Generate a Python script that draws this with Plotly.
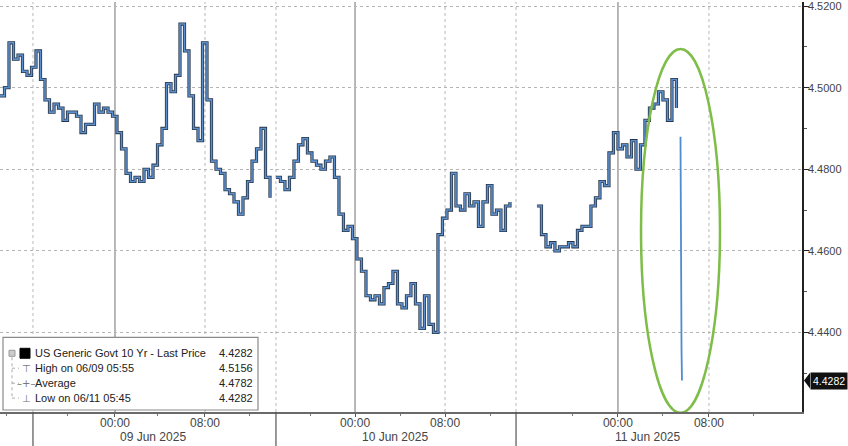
import plotly.graph_objects as go

# ---------------- data ----------------
# session time in "display hours" (Bloomberg compresses closed hours)
seg_starts = [0.0, 24.53, 47.73]
bar_step = 0.4

seg1_vals = [4.498, 4.500, 4.511, 4.507, 4.508, 4.504, 4.503, 4.505, 4.509, 4.502,
             4.497, 4.494, 4.496, 4.495, 4.492, 4.494, 4.494, 4.493, 4.489, 4.491,
             4.491, 4.496, 4.494, 4.495, 4.494, 4.493, 4.489, 4.485, 4.479, 4.477,
             4.478, 4.477, 4.480, 4.478, 4.481, 4.486, 4.490, 4.501, 4.499, 4.503,
             4.5156, 4.509, 4.498, 4.490, 4.487, 4.511, 4.497, 4.482, 4.480, 4.479,
             4.475, 4.474, 4.472, 4.469, 4.473, 4.477, 4.482, 4.485, 4.490, 4.478,
             4.473]
seg2_vals = [4.478, 4.477, 4.475, 4.478, 4.482, 4.486, 4.4875, 4.484, 4.482, 4.481,
             4.480, 4.482, 4.483, 4.478, 4.469, 4.465, 4.466, 4.463, 4.458, 4.455,
             4.449, 4.448, 4.449, 4.447, 4.451, 4.452, 4.455, 4.447, 4.446, 4.449,
             4.452, 4.447, 4.441, 4.449, 4.442, 4.440, 4.464, 4.468, 4.470, 4.479,
             4.471, 4.470, 4.474, 4.471, 4.472, 4.466, 4.472, 4.476, 4.469, 4.470,
             4.465, 4.471, 4.472]
seg3_vals = [4.471, 4.464, 4.461, 4.462, 4.460, 4.461, 4.461, 4.462, 4.461, 4.465,
             4.466, 4.466, 4.471, 4.473, 4.477, 4.476, 4.484, 4.489, 4.485, 4.486,
             4.483, 4.487, 4.480, 4.486, 4.492, 4.495, 4.496, 4.499, 4.497, 4.492,
             4.502, 4.495]
spike_time = [60.49, 60.53, 60.58, 60.62]
spike_vals = [4.488, 4.446, 4.436, 4.4282]

day_sep_pos = [2.93, 24.53, 45.87]
midnight_pos = [10.22, 31.56, 54.93]
morning_pos = [18.22, 39.56, 63.02]
minor_tick_pos = [0.62, 6.04, 14.04, 22.22, 27.56, 35.56, 43.56, 50.93, 58.93, 67.02]
day_label_pos = [13.6, 35.1, 57.6]
day_labels = ["09 Jun 2025", "10 Jun 2025", "11 Jun 2025"]

y_ticks = [4.44, 4.46, 4.48, 4.50, 4.52]
last_price = 4.4282

legend_labels = ["US Generic Govt 10 Yr - Last Price", "High on 06/09 05:55",
                 "Average", "Low on 06/11 05:45"]
legend_values = ["4.4282", "4.5156", "4.4782", "4.4282"]

# ---------------- figure ----------------
xs, ys = [], []
for start, vals in zip(seg_starts, [seg1_vals, seg2_vals, seg3_vals]):
    xs += [start + i * bar_step for i in range(len(vals))]
    ys += vals
    xs.append(None)
    ys.append(None)

X_MAX = 71.29
Y_MIN, Y_MAX = 4.4205, 4.521
FONT = "Liberation Sans"

fig = go.Figure()
fig.add_trace(go.Scatter(x=xs, y=ys, mode="lines", line=dict(color="#283444", width=3.2, shape="hv"),
                         connectgaps=False, hoverinfo="skip", showlegend=False))
fig.add_trace(go.Scatter(x=xs, y=ys, mode="lines", line=dict(color="#5b8fce", width=1.6, shape="hv"),
                         connectgaps=False, showlegend=False))
fig.add_trace(go.Scatter(x=spike_time, y=spike_vals, mode="lines",
                         line=dict(color="#4f8bd0", width=1.8), showlegend=False))

shapes = []
for p in day_sep_pos + morning_pos:
    shapes.append(dict(type="line", xref="x", yref="paper", x0=p, x1=p, y0=0, y1=1,
                       line=dict(color="#b8b8b8", width=1, dash="dot"), layer="below"))
for p in midnight_pos:
    shapes.append(dict(type="line", xref="x", yref="paper", x0=p, x1=p, y0=0, y1=1,
                       line=dict(color="#a6a6a6", width=1.6), layer="below"))
for p in day_sep_pos:
    shapes.append(dict(type="line", xref="x", yref="paper", x0=p, x1=p, y0=0, y1=-0.085,
                       line=dict(color="#555", width=1.2)))

# green ellipse highlight
shapes.append(dict(type="circle", xref="x", yref="y", x0=56.98, x1=64.0, y0=4.4203, y1=4.5095,
                   line=dict(color="#7dbd48", width=2.5)))

# legend box (pixel -> paper)
def px(x):
    return x / 802.0

def py(y):
    return (412.0 - y) / 412.0

shapes.append(dict(type="rect", xref="paper", yref="paper", x0=px(3), x1=px(258), y0=py(410), y1=py(337),
                   line=dict(color="#8a8a8a", width=1.2), fillcolor="white"))
row_y = [353, 368, 383, 398]
shapes.append(dict(type="line", xref="paper", yref="paper", x0=px(12), x1=px(12), y0=py(357), y1=py(398),
                   line=dict(color="#aaa", width=1, dash="dot")))
for ry in row_y[1:]:
    shapes.append(dict(type="line", xref="paper", yref="paper", x0=px(12), x1=px(19), y0=py(ry), y1=py(ry),
                       line=dict(color="#aaa", width=1, dash="dot")))
shapes.append(dict(type="rect", xref="paper", yref="paper", x0=px(9), x1=px(15), y0=py(356), y1=py(350),
                   line=dict(color="#999", width=1), fillcolor="#ccc"))
shapes.append(dict(type="rect", xref="paper", yref="paper", x0=px(20), x1=px(30), y0=py(358), y1=py(348),
                   line=dict(color="#000", width=1), fillcolor="#000"))
# last price tag pointer
ty = (last_price - Y_MIN) / (Y_MAX - Y_MIN)
shapes.append(dict(type="path", xref="paper", yref="paper",
                   path=f"M {px(804)},{ty} L {px(810)},{ty + 8/412} L {px(810)},{ty - 8/412} Z",
                   fillcolor="#111", line=dict(color="#111", width=0)))

annotations = []
for p, t in zip(day_label_pos, day_labels):
    annotations.append(dict(x=p, xref="x", y=py(437), yref="paper", text=t, showarrow=False,
                            font=dict(family=FONT, size=12, color="#444"), yanchor="middle"))
icons = ["", "⊤", "–+–", "⊥"]
for i, (lab, val) in enumerate(zip(legend_labels, legend_values)):
    annotations.append(dict(x=px(33), xref="paper", y=py(row_y[i]), yref="paper", text=lab,
                            showarrow=False, xanchor="left", yanchor="middle",
                            font=dict(family=FONT, size=11, color="#222")))
    annotations.append(dict(x=px(255), xref="paper", y=py(row_y[i]), yref="paper", text=val,
                            showarrow=False, xanchor="right", yanchor="middle",
                            font=dict(family=FONT, size=11, color="#222")))
    if icons[i]:
        annotations.append(dict(x=px(26), xref="paper", y=py(row_y[i]), yref="paper", text=icons[i],
                                showarrow=False, xanchor="center", yanchor="middle",
                                font=dict(family="DejaVu Sans", size=10, color="#777")))
annotations.append(dict(x=px(810), xref="paper", y=last_price, yref="y", text=f"{last_price:.4f}",
                        showarrow=False, xanchor="left", yanchor="middle", bgcolor="#111",
                        borderpad=2, font=dict(family=FONT, size=10.5, color="white")))

fig.update_layout(
    width=848, height=446,
    margin=dict(l=0, r=46, t=0, b=34),
    plot_bgcolor="white", paper_bgcolor="white",
    shapes=shapes, annotations=annotations,
    xaxis=dict(range=[0, X_MAX], showgrid=False, zeroline=False,
               tickmode="array", tickvals=midnight_pos + morning_pos,
               ticktext=["00:00"] * 3 + ["08:00"] * 3,
               ticks="outside", ticklen=3, tickcolor="#555", ticklabelstandoff=-4,
               minor=dict(tickmode="array", tickvals=minor_tick_pos, ticks="outside", ticklen=2, tickcolor="#777"),
               showline=True, linecolor="#6a6a6a", linewidth=2,
               tickfont=dict(family=FONT, size=12, color="#444")),
    yaxis=dict(range=[Y_MIN, Y_MAX], side="right", tickmode="array", tickvals=y_ticks,
               ticktext=[f"{v:.4f}" for v in y_ticks], ticklabeloverflow="allow",
               showgrid=True, gridcolor="#b5b5b5", griddash="dot", gridwidth=1, zeroline=False,
               ticks="outside", ticklen=5, tickcolor="#222", ticklabelstandoff=-3,
               minor=dict(dtick=0.01, ticks="outside", ticklen=3, tickcolor="#555", showgrid=False),
               showline=True, linecolor="#222", linewidth=1.5,
               tickfont=dict(family=FONT, size=11, color="#444")),
)

fig.write_html("out.html", config={"displayModeBar": False},
               post_script="document.body.style.margin='0';document.body.style.overflow='hidden';")
